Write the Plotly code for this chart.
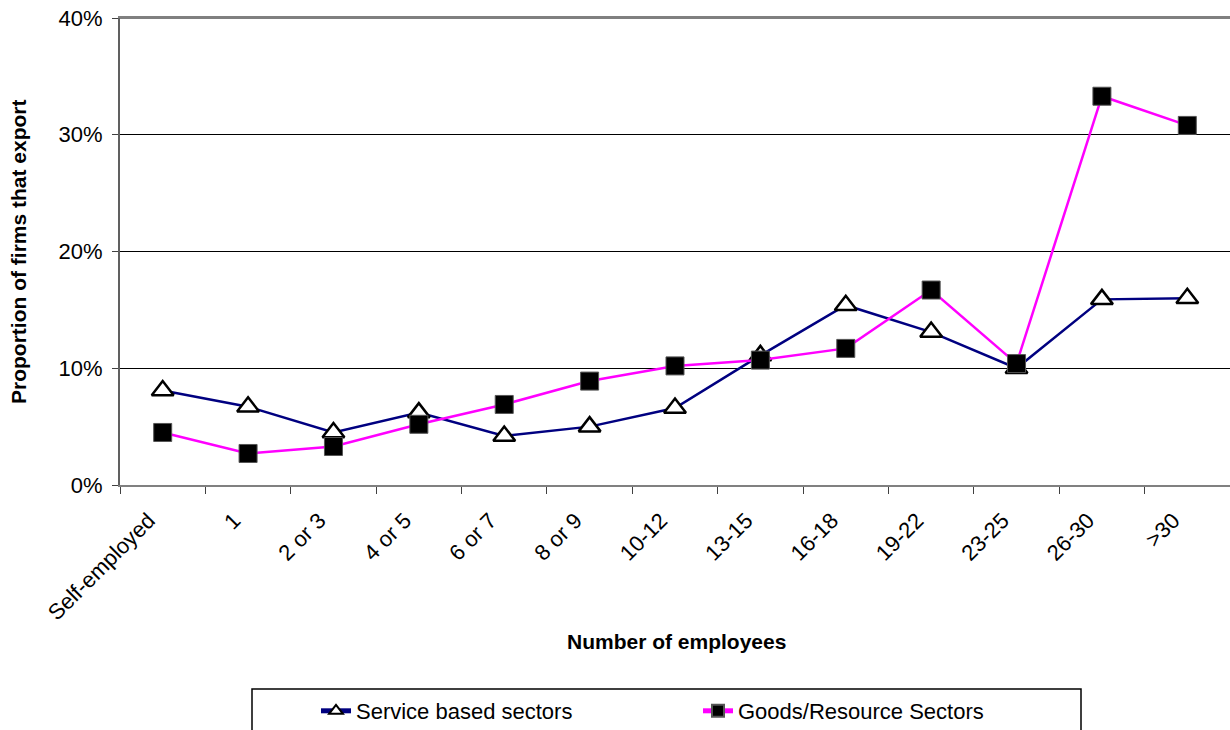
import plotly.graph_objects as go

categories = ["Self-employed", "1", "2 or 3", "4 or 5", "6 or 7", "8 or 9", "10-12",
              "13-15", "16-18", "19-22", "23-25", "26-30", ">30"]
service = [0.081, 0.067, 0.045, 0.062, 0.042, 0.050, 0.066,
           0.111, 0.154, 0.131, 0.100, 0.159, 0.160]
goods = [0.045, 0.027, 0.033, 0.052, 0.069, 0.089, 0.102,
         0.107, 0.117, 0.167, 0.104, 0.333, 0.308]
y_ticks = [0, 0.1, 0.2, 0.3, 0.4]
y_tick_labels = ["0%", "10%", "20%", "30%", "40%"]

FONT = "Liberation Sans, Arial, sans-serif"

FW, FH = 1230, 730
L, R, T, B = 120, 1230, 18, 485
W, H = R - L, B - T


def px(x):
    return (x - L) / W


def py(y):
    return (B - y) / H


fig = go.Figure()
fig.add_trace(go.Scatter(
    x=categories, y=service, name="Service based sectors", mode="lines+markers",
    line=dict(color="#000080", width=2.5),
    marker=dict(symbol="triangle-up", size=19, color="white",
                line=dict(color="black", width=2.5)),
))
fig.add_trace(go.Scatter(
    x=categories, y=goods, name="Goods/Resource Sectors", mode="lines+markers",
    line=dict(color="#FF00FF", width=2.5),
    marker=dict(symbol="square", size=18, color="black",
                line=dict(color="#555555", width=1)),
))

fig.update_layout(
    width=FW, height=FH,
    margin=dict(l=L, r=FW - R, t=T, b=FH - B, autoexpand=False),
    paper_bgcolor="white", plot_bgcolor="white",
    font=dict(family=FONT, size=22, color="black"),
    showlegend=True,
    legend=dict(orientation="h", x=px(316), xanchor="left", y=py(711), yanchor="middle",
                borderwidth=0, bgcolor="rgba(0,0,0,0)",
                font=dict(size=22), entrywidth=337, entrywidthmode="pixels",
                itemsizing="constant"),
    xaxis=dict(type="category", showgrid=False, showline=True, linecolor="#808080",
               linewidth=2, mirror=True, ticks="outside", tickson="boundaries",
               ticklen=7, tickcolor="#404040", tickangle=-45, automargin=False,
               tickfont=dict(size=22), range=[-0.5, 12.5], ticklabeloverflow="allow",
               ticklabelshift=-14, ticklabelstandoff=12),
    yaxis=dict(range=[0, 0.4], tickmode="array", tickvals=y_ticks, ticktext=y_tick_labels,
               showgrid=True, gridcolor="black", gridwidth=1, showline=True,
               linecolor="#606060", linewidth=2, ticks="outside", ticklen=6,
               tickcolor="#404040", automargin=False, tickfont=dict(size=22),
               zeroline=False, ticklabeloverflow="allow", ticklabelstandoff=5),
    shapes=[
        dict(type="rect", xref="paper", yref="paper",
             x0=px(252), x1=px(1081), y0=py(689), y1=py(760),
             line=dict(color="black", width=1.5), fillcolor="rgba(0,0,0,0)", layer="below"),
        dict(type="line", xref="paper", yref="paper", x0=0, x1=1, y0=1, y1=1,
             line=dict(color="#808080", width=2), layer="above"),
    ],
    annotations=[
        dict(text="<b>Number of employees</b>", xref="paper", yref="paper",
             x=px(676), y=py(642), xanchor="center", yanchor="middle",
             showarrow=False, font=dict(size=21)),
        dict(text="<b>Proportion of firms that export</b>", xref="paper", yref="paper",
             x=px(18), y=py(252), xanchor="center", yanchor="middle",
             textangle=-90, showarrow=False, font=dict(size=21)),
    ],
)

fig.write_html("out.html", config={"displayModeBar": False},
               post_script="document.body.style.margin='0';document.body.style.overflow='hidden';")
